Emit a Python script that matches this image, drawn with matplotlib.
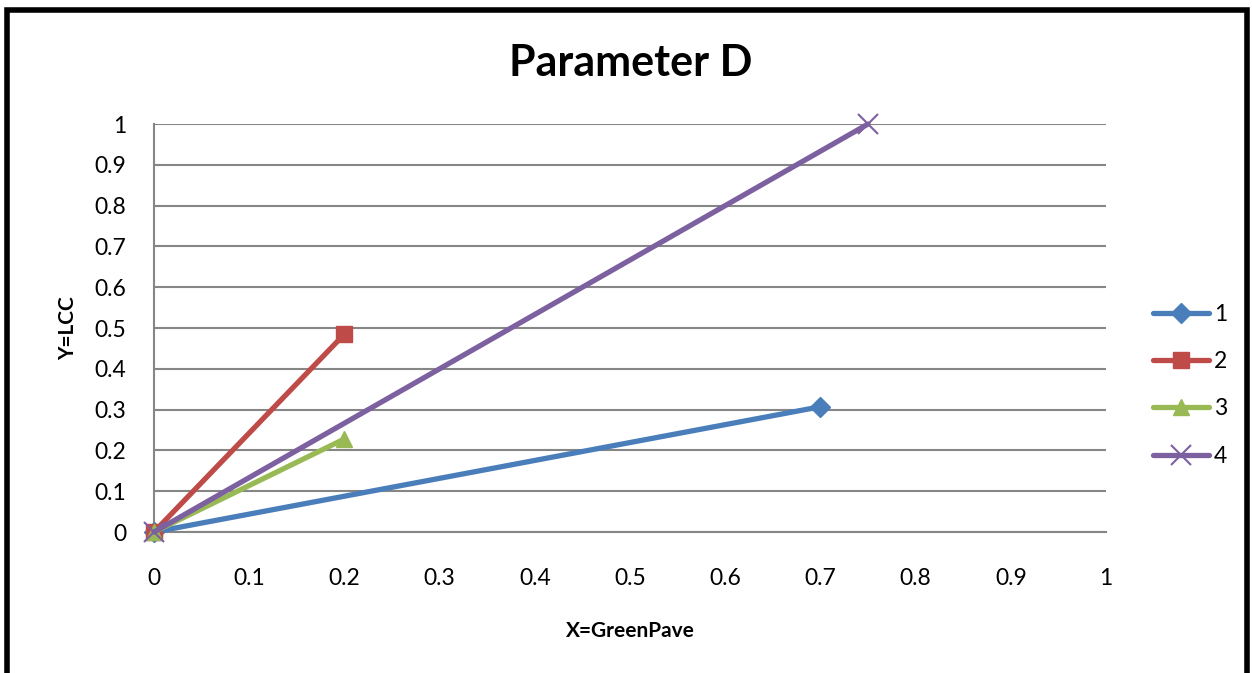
import matplotlib.pyplot as plt
from matplotlib.patches import Rectangle

# series data
labels = ["1", "2", "3", "4"]
x_values = [
    [0, 0.7],
    [0, 0.2],
    [0, 0.2],
    [0, 0.75],
]
y_values = [
    [0, 0.307],
    [0, 0.485],
    [0, 0.228],
    [0, 1.0],
]
colors = ["#4A7EBB", "#BE4B48", "#98B954", "#7D60A0"]
markers = ["D", "s", "^", "x"]
marker_sizes = [10, 12, 12, 14]

x_ticks = [0, 0.1, 0.2, 0.3, 0.4, 0.5, 0.6, 0.7, 0.8, 0.9, 1]
y_ticks = [0, 0.1, 0.2, 0.3, 0.4, 0.5, 0.6, 0.7, 0.8, 0.9, 1]

plt.rcParams["font.family"] = ["Lato", "DejaVu Sans"]

fig = plt.figure(figsize=(12.52, 6.73), dpi=100)
ax = fig.add_axes([0.123, 0.2095, 0.7604, 0.6062])

for xs, ys, c, m, ms, lab in zip(x_values, y_values, colors, markers, marker_sizes, labels):
    ax.plot(xs, ys, color=c, lw=3.8, marker=m, markersize=ms,
            markeredgewidth=1.5 if m == "x" else 1, markeredgecolor=c,
            label=lab, solid_capstyle="round", zorder=3, clip_on=False)

ax.set_xlim(0, 1)
ax.set_ylim(0, 1)
ax.set_xticks(x_ticks)
ax.set_yticks(y_ticks)
ax.set_xticklabels([f"{t:g}" for t in x_ticks])
ax.set_yticklabels([f"{t:g}" for t in y_ticks])
ax.tick_params(axis="both", length=0, labelsize=16.5)
ax.tick_params(axis="x", pad=26)
ax.tick_params(axis="y", pad=20)

ax.grid(axis="y", color="#868686", lw=1.5)
ax.set_axisbelow(True)
for side in ["top", "right"]:
    ax.spines[side].set_visible(False)
for side in ["left", "bottom"]:
    ax.spines[side].set_color("#868686")
    ax.spines[side].set_linewidth(1.5)

ax.set_xlabel("X=GreenPave", fontsize=15, fontweight="bold", labelpad=23)
ax.set_ylabel("Y=LCC", fontsize=15, fontweight="bold", labelpad=12)
fig.text(0.504, 0.907, "Parameter D", fontsize=31, fontweight="bold",
         ha="center", va="center")

leg = ax.legend(loc="center left", bbox_to_anchor=(1.04, 0.36), frameon=False,
                fontsize=16.5, handlelength=2.45, handletextpad=0.2, labelspacing=1.15,
                borderaxespad=0)

# black border around the chart area
fig.patches.append(Rectangle((7 / 1252, -0.05), 1240 / 1252, 1 - 10 / 673 + 0.05,
                             transform=fig.transFigure, fill=False,
                             edgecolor="black", lw=4))

fig.savefig("out.png", dpi=100)
